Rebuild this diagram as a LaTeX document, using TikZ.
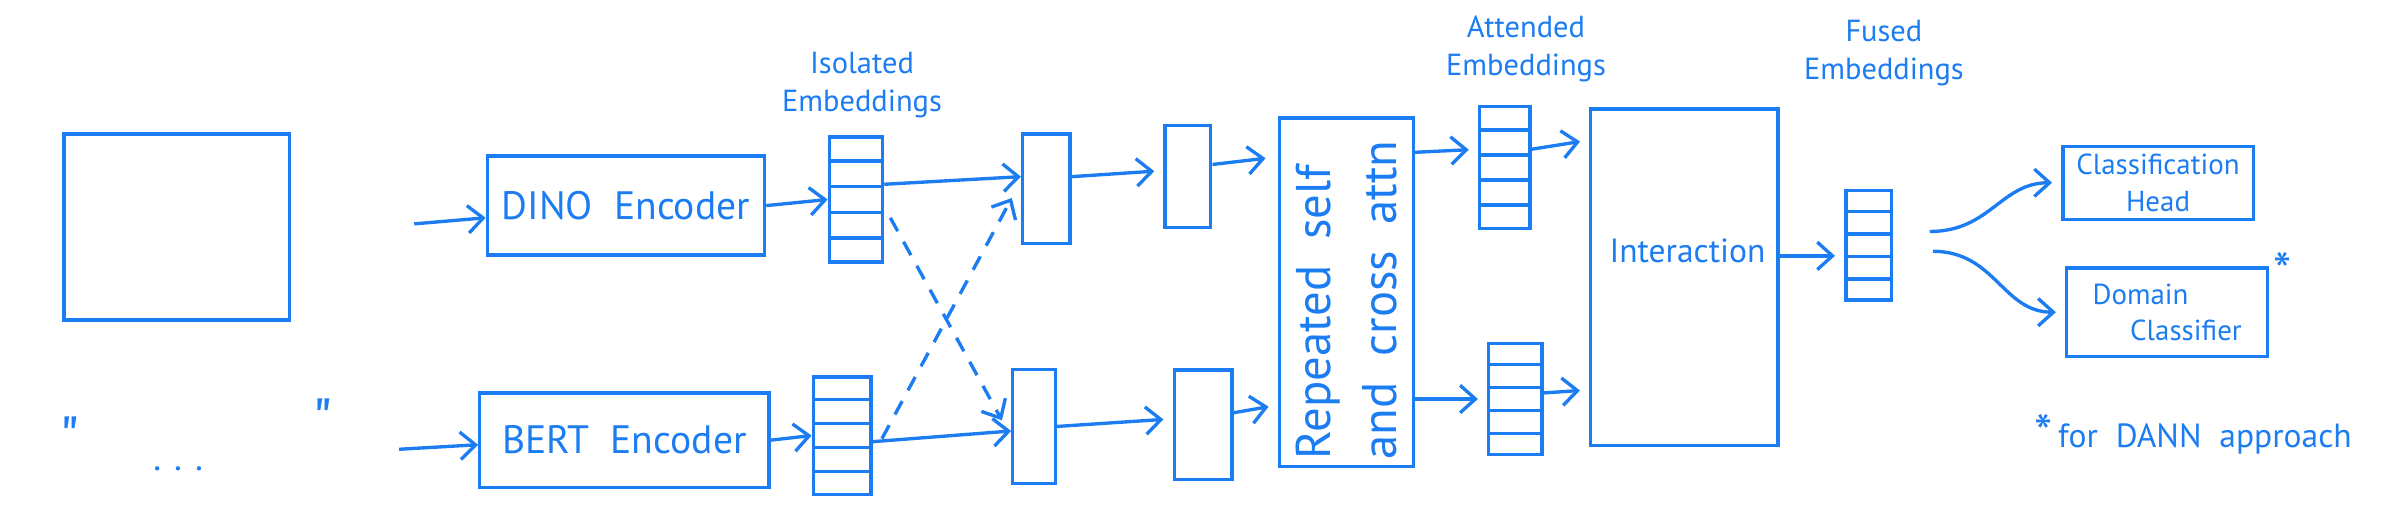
\documentclass[tikz,border=0pt]{standalone}
\usepackage{fontspec}
\setmainfont{PT Sans}
\usetikzlibrary{arrows.meta,calc}
\definecolor{ink}{RGB}{28,124,242}
\tikzset{
  blk/.style={draw=ink, line width=1.1pt, inner sep=0pt},
  emb/.style={blk, minimum width=#1},
  lbl/.style={text=ink, inner sep=0.75pt, align=center, font=\fontsize{10}{12.5}\selectfont},
  arr/.style={draw=ink, line width=1.1pt, -{Straight Barb[length=5pt,width=9pt]}},
  darr/.style={arr, dash pattern=on 5pt off 4pt}
}

\begin{document}
\begin{tikzpicture}[x=0.5pt,y=0.5pt,yscale=-1,xscale=1,color=ink,font=\fontsize{13}{15}\selectfont]
\useasboundingbox (0,0) rectangle (1568,343);

%Shape: Rectangle [image]
\node[blk, minimum width=74pt, minimum height=61pt] (img) at (116,149) {};
% Text Node [caption]
\node[lbl, font=\fontsize{20}{22}\selectfont] (qL) at (46,288) {\textquotedbl};
\node[lbl, font=\fontsize{20}{22}\selectfont] (qR) at (212,276) {\textquotedbl};
\node[lbl, font=\fontsize{12}{14}\selectfont] (dots) at (117,308) {. . .};

%Shape: Rectangle [encoders]
\node[blk, minimum width=91pt, minimum height=32.5pt] (dino) at (411,135) {DINO\ \ Encoder};
\node[blk, minimum width=95pt, minimum height=31pt] (bert) at (410,289) {BERT\ \ Encoder};

%Shape: Rectangle [isolated embeddings]
\node[emb=17.5pt, minimum height=41pt] (isoA) at (562,131) {};
\node[emb=19pt, minimum height=38.5pt] (isoB) at (553,286) {};
% Text Node
\node[lbl] (isoT) at (566,56) {Isolated\\Embeddings};

%Shape: Rectangle [projections]
\node[emb=15.5pt, minimum height=36pt] (crA) at (687,124) {};
\node[emb=14pt, minimum height=37.5pt] (crB) at (679,280) {};
\node[emb=15pt, minimum height=33.5pt] (prA) at (780,116) {};
\node[emb=19pt, minimum height=36pt] (prB) at (790,279) {};

%Shape: Rectangle [attention]
\node[blk, minimum width=44pt, minimum height=114.5pt] (attn) at (884,192) {};
% Text Node
\node[lbl, rotate=90, align=left, font=\fontsize{16}{21.5}\selectfont] (attnT) at (884,197) {Repeated\ \ self\\and\ \ cross\ \ attn};

%Shape: Rectangle [attended embeddings]
\node[emb=16.5pt, minimum height=40pt] (attA) at (988,110) {};
\node[emb=17.5pt, minimum height=36.5pt] (attB) at (995,262) {};
% Text Node
\node[lbl] (attT) at (1002,32) {Attended\\Embeddings};

%Shape: Rectangle [interaction]
\node[blk, minimum width=61.5pt, minimum height=110.5pt] (inter) at (1106,182) {};
% Text Node
\node[lbl, font=\fontsize{11}{13}\selectfont] (interT) at (1108,165) {Interaction};

%Shape: Rectangle [fused embeddings]
\node[emb=15pt, minimum height=36pt] (fus) at (1227,161) {};
% Text Node
\node[lbl] (fusT) at (1237,35) {Fused\\Embeddings};

%Shape: Rectangle [heads]
\node[blk, minimum width=62.5pt, minimum height=24pt, font=\fontsize{9.5}{12}\selectfont, align=center] (cls) at (1417,120) {Classification\\Head};
\node[blk, minimum width=66pt, minimum height=29pt, font=\fontsize{9.5}{12}\selectfont, align=left] (dom) at (1423,205) {Domain\\\hspace*{1.3em}Classifier};
% Text Node
\node[lbl, font=\fontsize{17}{19}\selectfont] (star) at (1499,178) {*};
\node[lbl, font=\fontsize{11}{13}\selectfont] (note) at (1440,285) {\raisebox{-0.25ex}{\fontsize{17}{19}\selectfont *}\,for\ \ DANN\ \ approach};

% cells of the embedding stacks
\foreach \s in {isoA,isoB,attA,attB,fus}
  \foreach \k in {1,...,4}
    \draw[blk] ($(\s.north west)!\k/5!(\s.south west)$) -- ($(\s.north east)!\k/5!(\s.south east)$);

%Straight Lines [inputs]
\coordinate (inA) at (272,147);
\coordinate (inB) at (262,295);
\draw[arr] (inA) -- ([yshift=4pt]dino.west);
\draw[arr] (inB) -- ([yshift=1.5pt]bert.west);
\draw[arr] (dino.east) -- (isoA.west);
\draw[arr] (bert.east) -- (isoB.west);

%Straight Lines [isolated to projections]
\draw[arr] ([yshift=-5pt]isoA.east) -- ([yshift=-4pt]crA.west);
\draw[arr] ([yshift=2pt]isoB.east) -- ([yshift=1.5pt]crB.west);
\draw[darr] ([xshift=2pt,yshift=6pt]isoA.east) -- ([xshift=-3pt,yshift=-2pt]crB.west);
\draw[darr] ([xshift=3pt,yshift=1pt]isoB.east) -- ([xshift=-3pt,yshift=3pt]crA.west);
\draw[arr, shorten >=3pt] ([yshift=-4pt]crA.east) -- ([yshift=-2pt]prA.west);
\draw[arr, shorten >=3pt] (crB.east) -- ([yshift=-2pt]prB.west);

%Straight Lines [attention]
\draw[arr, shorten >=4pt] ([yshift=-4pt]prA.east) -- ([yshift=-44.5pt]attn.west);
\draw[arr, shorten >=3pt] ([yshift=-4pt]prB.east) -- ([yshift=37pt]attn.west);
\draw[arr, shorten >=3pt] ([yshift=-46pt]attn.east) -- ([yshift=-6pt]attA.west);
\draw[arr, shorten >=3pt] ([yshift=35pt]attn.east) -- (attB.west);
\draw[arr, shorten >=3pt] ([yshift=-6pt]attA.east) -- ([yshift=-45pt]inter.west);
\draw[arr, shorten >=3pt] ([yshift=-2pt]attB.east) -- ([yshift=37pt]inter.west);
\draw[arr, shorten >=3pt] ([yshift=-7pt]inter.east) -- ([yshift=3.5pt]fus.west);

%Curve Lines [heads]
\draw[arr, shorten >=3pt] ([xshift=12pt,yshift=-4.5pt]fus.east) to[out=0,in=180,looseness=1.1] (cls.west);
\draw[arr, shorten >=3pt] ([xshift=13pt,yshift=2pt]fus.east) to[out=0,in=180,looseness=1.1] (dom.west);

\end{tikzpicture}
\end{document}
